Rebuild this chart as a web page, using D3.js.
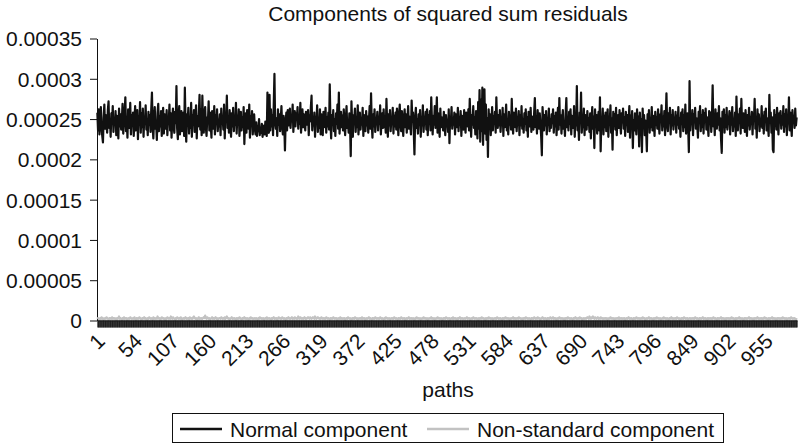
<!DOCTYPE html>
<html>
<head>
<meta charset="utf-8">
<script src="https://cdn.jsdelivr.net/npm/d3@7"></script>
<style>
  body { margin: 0; background: #fff; }
  text { font-family: "Liberation Sans", Arial, sans-serif; fill: #111; }
</style>
</head>
<body>
<div id="chart"></div>
<script>
// values in units of 1e-6, path 1..1000
const normalComponent = [
  258,236,262,231,247,265,240,229,221,252,268,238,255,244,233,261,272,239,250,228,257,246,266,234,251,
  243,260,230,254,248,226,263,241,256,237,249,269,232,245,259,277,235,253,227,262,246,239,270,231,255,
  242,258,229,250,266,236,247,261,225,254,244,271,233,257,240,263,228,252,245,267,237,249,230,259,243,
  255,234,262,283,240,226,251,265,238,247,224,258,269,235,253,241,260,229,248,264,232,256,244,238,261,
  230,252,246,268,236,257,227,249,263,240,233,259,245,291,238,225,254,266,231,248,260,235,242,258,229,
  289,243,222,256,247,264,232,251,239,270,228,255,245,261,234,249,267,226,253,241,258,280,237,262,230,
  279,246,233,257,265,240,229,252,248,272,236,258,243,227,260,250,238,266,231,254,245,262,235,249,241,
  256,230,263,244,252,237,268,226,255,247,279,239,251,233,261,246,228,257,241,264,235,250,243,270,232,
  254,245,262,229,248,259,236,252,240,265,219,246,257,233,261,249,238,268,227,253,244,260,231,247,256,
  238,231,246,229,241,235,250,230,239,233,244,228,236,242,231,247,234,229,283,239,233,280,236,262,241,
  255,230,268,306,245,238,251,229,262,243,256,235,249,266,240,231,254,245,211,247,258,236,261,242,250,
  263,239,255,247,268,234,252,260,241,257,249,265,238,254,244,270,233,251,262,240,256,246,236,259,248,
  243,261,230,255,247,265,279,236,251,242,258,228,253,245,267,234,250,239,262,231,256,244,230,259,240,
  248,264,233,252,241,258,237,293,246,226,255,243,261,235,250,229,257,244,268,238,283,232,247,259,240,
  254,236,262,245,230,251,266,239,248,233,257,242,204,272,244,228,255,249,263,234,252,240,267,231,246,
  258,237,251,243,264,229,255,247,235,260,242,253,233,249,266,238,282,245,227,256,241,262,234,250,246,
  259,236,253,244,267,231,248,257,239,262,240,251,233,275,245,228,256,242,261,235,250,246,264,232,254,
  241,258,237,263,249,230,255,268,244,235,260,247,229,252,262,240,256,233,250,266,238,253,245,231,273,
  247,258,236,206,251,264,239,249,232,256,245,261,228,253,242,267,234,250,247,259,237,262,230,255,244,
  260,236,277,248,231,254,243,266,239,251,277,233,257,245,228,263,240,252,247,236,259,244,230,255,241,
  249,234,262,220,253,246,265,238,251,243,258,231,256,248,240,264,235,252,244,260,229,254,247,237,261,
  245,233,258,249,241,262,236,275,250,228,255,243,266,239,252,231,260,246,226,271,238,286,222,274,235,
  289,218,260,287,232,268,224,251,203,262,240,256,230,249,265,236,253,244,259,233,277,247,239,255,242,
  261,234,250,245,264,229,256,240,252,268,236,248,231,259,243,254,237,275,245,232,258,249,240,263,235,
  251,246,260,230,255,242,266,238,249,233,257,244,262,236,252,228,259,247,241,264,234,253,245,237,258,
  276,240,254,232,261,246,238,257,243,229,205,265,248,236,255,242,260,231,251,244,263,235,250,239,256,
  245,262,233,253,241,258,230,249,264,237,276,243,255,232,250,261,238,247,229,257,276,240,252,236,259,
  244,262,231,254,247,239,266,228,253,242,291,236,250,224,258,245,283,233,249,240,263,230,255,246,237,
  260,243,251,234,257,226,248,265,238,253,214,262,241,255,232,247,259,236,277,210,250,244,263,231,254,
  240,258,235,249,262,228,253,245,267,233,251,212,259,242,256,237,264,230,248,255,239,261,244,232,257,
  246,263,238,252,229,259,243,255,234,249,266,227,254,241,260,214,248,236,257,245,231,262,240,253,216,
  258,235,250,209,263,242,255,230,248,237,210,256,244,261,233,251,240,265,236,254,247,229,259,243,252,
  238,262,245,232,256,249,267,236,253,241,260,230,251,282,244,235,257,248,264,231,255,242,261,237,250,
  246,259,233,254,243,265,238,251,228,258,247,262,235,255,240,268,232,249,257,241,209,297,236,253,244,
  261,230,256,247,264,238,251,243,227,259,246,266,235,254,240,261,232,257,248,263,237,252,244,229,260,
  245,258,234,253,292,241,256,230,262,247,238,257,243,266,236,251,225,208,259,244,262,233,255,240,264,
  237,252,246,260,231,257,243,265,235,250,241,258,229,278,245,236,256,248,263,232,275,244,239,257,250,
  234,261,246,229,255,242,264,237,252,245,259,231,257,248,275,238,253,227,262,244,256,235,250,241,266,
  239,254,232,259,247,263,236,251,243,229,280,245,258,233,252,212,209,261,242,255,237,264,246,231,257,
  248,260,238,253,243,266,234,256,241,262,230,251,245,277,236,258,244,229,261,247,254,239,263,242,252
];

const nonStandardComponent = [
  2,3,2,1,3,2,4,2,3,1,2,3,2,4,3,2,1,3,2,3,2,4,2,3,2,
  3,2,1,3,2,3,5,2,3,2,1,3,2,4,2,3,2,3,1,2,3,2,4,3,2,
  2,3,2,4,2,1,3,2,3,2,4,3,2,1,3,2,3,4,2,3,2,1,3,2,4,
  3,2,3,2,1,4,2,3,2,3,2,5,3,2,3,1,2,4,3,2,3,2,1,3,2,
  4,3,2,3,2,5,3,2,4,3,2,1,3,2,4,3,2,3,2,4,3,1,2,3,2,
  3,4,2,3,2,3,1,4,3,2,3,2,4,5,3,2,3,2,1,3,4,2,3,2,3,
  2,3,4,3,6,3,2,4,3,2,3,1,2,3,4,2,3,2,3,4,2,3,1,2,3,
  3,2,4,3,2,3,2,4,2,3,5,3,2,3,1,2,3,4,2,3,2,3,2,1,3,
  2,3,2,4,3,2,1,3,2,3,4,2,3,2,3,2,1,3,2,4,3,2,3,2,2,
  3,2,3,2,1,3,2,4,3,2,3,2,3,1,2,3,2,4,2,3,2,3,2,1,3,
  2,3,4,2,3,2,3,1,2,4,3,2,3,2,4,3,2,3,2,1,3,2,3,4,2,
  3,2,3,4,2,3,2,4,3,2,3,2,5,3,2,4,3,2,3,2,3,4,2,3,2,
  3,4,3,2,4,3,2,3,4,3,2,5,3,2,3,4,3,2,3,2,4,3,2,3,2,
  3,2,4,3,2,3,2,1,3,2,3,2,4,3,2,3,2,3,1,2,3,2,4,2,3,
  2,3,2,3,1,2,3,2,4,3,2,3,2,1,3,2,3,2,4,3,2,3,1,2,3,
  2,3,2,4,2,3,2,3,1,2,3,2,3,4,2,3,2,1,3,2,3,2,4,3,2,
  3,2,3,2,4,3,2,3,2,1,3,2,4,3,2,3,2,3,1,2,3,2,3,2,4,
  3,2,3,2,1,3,2,3,2,4,3,2,3,2,3,1,2,3,2,3,4,2,3,2,3,
  2,3,2,1,3,2,4,3,2,3,2,3,1,2,3,2,4,3,2,3,2,3,1,2,3,
  2,3,4,2,3,2,3,1,2,3,2,4,3,2,3,2,3,2,1,3,2,3,2,4,3,
  2,3,2,3,1,2,3,2,4,2,3,2,3,2,1,3,2,3,4,2,3,2,3,2,2,
  3,2,3,4,2,3,2,3,1,2,3,2,4,3,2,3,2,3,2,1,3,2,3,2,4,
  3,2,3,2,1,3,2,3,2,4,3,2,3,2,3,1,2,3,2,3,2,4,3,2,3,
  2,3,2,1,3,2,3,2,4,3,2,3,2,3,1,2,3,2,3,4,2,3,2,3,2,
  3,2,4,3,2,3,2,1,3,2,3,2,4,3,2,3,2,3,2,1,3,2,3,2,4,
  3,2,3,2,4,3,2,3,1,2,3,4,2,3,2,3,2,1,3,2,3,2,4,3,2,
  3,4,2,3,2,3,1,2,3,2,4,3,2,3,2,3,2,1,3,2,3,2,4,3,2,
  3,2,3,2,1,3,2,3,4,2,3,2,3,2,4,3,2,3,1,2,3,2,3,2,3,
  4,3,2,5,3,2,4,3,5,3,2,4,3,2,3,4,2,3,2,4,3,2,3,2,3,
  2,3,2,3,1,2,3,2,4,3,2,3,2,3,1,2,3,2,3,2,4,2,3,2,3,
  2,3,2,3,1,2,3,2,3,4,2,3,2,3,2,1,3,2,3,2,4,3,2,3,2,
  3,2,3,2,4,3,2,3,1,2,3,2,3,4,2,3,2,3,2,1,3,2,3,2,4,
  3,2,3,2,3,1,2,3,2,4,3,2,3,2,3,2,1,3,2,3,4,2,3,2,3,
  2,3,2,4,3,2,3,2,1,3,2,3,2,4,3,2,3,2,3,1,2,3,2,3,2,
  3,2,3,2,4,3,2,3,2,1,3,2,3,2,3,4,2,3,2,3,2,1,3,2,3,
  2,3,2,3,2,4,3,2,3,2,1,3,2,3,2,3,4,2,3,2,3,2,1,3,2,
  3,2,3,2,3,2,4,3,2,3,2,1,3,2,3,2,3,4,2,3,2,3,2,1,3,
  2,3,2,3,2,3,4,2,3,2,3,2,1,3,2,3,2,3,4,2,3,2,3,2,3,
  2,3,2,4,3,2,3,2,1,3,2,3,2,3,4,2,3,2,3,2,1,3,2,3,2,
  3,2,3,2,4,3,2,3,2,3,1,2,3,2,3,2,4,3,2,3,2,3,2,1,3
];

const xTickLabels = ["1","54","107","160","213","266","319","372","425","478","531","584","637","690","743","796","849","902","955"];
const yTickValues = [0, 0.00005, 0.0001, 0.00015, 0.0002, 0.00025, 0.0003, 0.00035];
const yTickLabels = ["0","0.00005","0.0001","0.00015","0.0002","0.00025","0.0003","0.00035"];
const seriesNames = ["Normal component", "Non-standard component"];
const seriesColors = ["#111111", "#c2c2c2"];

const width = 798, height = 445;
const margin = ({top: 38.5, right: 1, bottom: 124.5, left: 97});
const unit = 1e-6;

const x = d3.scaleLinear()
    .domain([0.5, normalComponent.length + 0.5])
    .range([margin.left, width - margin.right]);
const y = d3.scaleLinear()
    .domain([0, 0.00035])
    .range([height - margin.bottom, margin.top]);

const svg = d3.select("#chart").append("svg").attr("width", width).attr("height", height);

// title
svg.append("text")
  .attr("x", 448).attr("y", 21)
  .attr("text-anchor", "middle")
  .style("font-size", "21px")
  .text("Components of squared sum residuals");

// y axis
const yAxis = d3.axisLeft(y)
  .tickValues(yTickValues)
  .tickFormat((d, i) => yTickLabels[i])
  .tickSize(7).tickSizeOuter(0).tickPadding(8);
const gy = svg.append("g")
  .attr("transform", `translate(${margin.left},0)`)
  .call(yAxis);
gy.selectAll("text").style("font-size", "21px").attr("fill", "#111").attr("dy", "0.35em");
gy.selectAll("line, path").attr("stroke", "#111");

// lines
const line = d3.line()
  .x((d, i) => x(i + 1))
  .y(d => y(d * unit));

[normalComponent, nonStandardComponent].forEach((s, k) => {
  svg.append("path")
    .datum(s)
    .attr("fill", "none")
    .attr("stroke", seriesColors[k])
    .attr("stroke-width", 2.2)
    .attr("stroke-linejoin", "round")
    .attr("d", line);
});

// category tick marks at every path
const xAxisTicks = d3.axisBottom(x)
  .tickValues(d3.range(1, normalComponent.length + 1))
  .tickFormat(() => "")
  .tickSize(7).tickSizeOuter(0);
const gx = svg.append("g")
  .attr("transform", `translate(0,${y(0)})`)
  .call(xAxisTicks);
gx.selectAll("line").attr("stroke", "#1a1a1a").attr("stroke-width", 1);
gx.select(".domain").attr("stroke", "#111");

// rotated category labels
svg.append("g").selectAll("text")
  .data(xTickLabels)
  .enter().append("text")
  .attr("text-anchor", "end")
  .style("font-size", "21px")
  .attr("transform", d => `translate(${x(+d) + 9},${y(0) + 22}) rotate(-45)`)
  .text(d => d);

// x axis label
svg.append("text")
  .attr("x", 448).attr("y", 397)
  .attr("text-anchor", "middle")
  .style("font-size", "21px")
  .text("paths");

// legend
const legend = svg.append("g");
legend.append("rect")
  .attr("x", 172.5).attr("y", 413.5)
  .attr("width", 551).attr("height", 29)
  .attr("fill", "none").attr("stroke", "#111");
const legendX = [180, 427];
seriesNames.forEach((name, k) => {
  legend.append("line")
    .attr("x1", legendX[k]).attr("x2", legendX[k] + 42)
    .attr("y1", 429).attr("y2", 429)
    .attr("stroke", seriesColors[k]).attr("stroke-width", 2.5);
  legend.append("text")
    .attr("x", legendX[k] + 50).attr("y", 437)
    .style("font-size", "21px")
    .text(name);
});
</script>
</body>
</html>
